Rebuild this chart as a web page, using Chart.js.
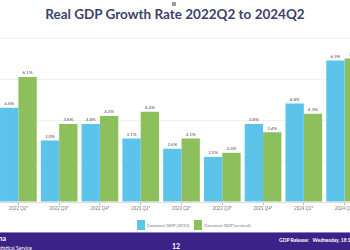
<!DOCTYPE html>
<html lang="en">
<head>
    <meta charset="UTF-8">
    <script src="https://cdn.jsdelivr.net/npm/chart.js"></script>
    <style>
        body, html {
            margin: 0;
            padding: 0;
            width: 350px;
            height: 250px;
            overflow: hidden;
            background: #fff;
            position: relative;
            font-family: Lato, "Open Sans", sans-serif;
        }
        #icon {
            position: absolute;
            left: 172px;
            top: 2px;
            width: 4px;
            height: 4px;
            background: #9a9a9a;
        }
        #title {
            position: absolute;
            top: 6px;
            left: 0;
            width: 350px;
            text-align: center;
            font-size: 13.5px;
            font-weight: bold;
            color: #3d3f6c;
        }
        #chart {
            position: absolute;
            left: -2px;
            top: 30px;
        }
        #legend {
            position: absolute;
            top: 220px;
            left: 137px;
            display: flex;
            align-items: center;
            font-size: 4.5px;
            color: #777;
            white-space: nowrap;
        }
        .box { width: 8px; height: 10px; margin-right: 2px; }
        #footer {
            position: absolute;
            left: 0;
            top: 232px;
            width: 350px;
            height: 18px;
            background: #3a2286;
            border-top: 1px solid #8f80c8;
            color: #fff;
            overflow: hidden;
        }
        .ft { position: absolute; white-space: nowrap; font-weight: bold; }
    </style>
</head>
<body>
    <div id="icon"></div>
    <div id="title">Real GDP Growth Rate 2022Q2 to 2024Q2</div>
    <canvas id="chart" width="367" height="188"></canvas>
    <div id="legend"></div>
    <div id="footer">
        <div class="ft" style="right:344px;top:1px;font-size:7px;">Ghana</div>
        <div class="ft" style="right:318px;top:12px;font-size:5px;font-weight:normal;">Statistical Service</div>
        <div class="ft" style="left:172px;top:9px;font-size:7px;">12</div>
        <div class="ft" style="left:279px;top:4px;font-size:5px;">GDP Release:&nbsp;&nbsp; Wednesday, 18 September 2024</div>
    </div>

    <script>
        const quarters = ['2022 Q2*', '2022 Q3*', '2022 Q4*', '2023 Q1*', '2023 Q2*', '2023 Q3*', '2023 Q4*', '2024 Q1*', '2024 Q2*'];
        const oldSeries = [4.6, 3.0, 3.8, 3.1, 2.6, 2.2, 3.8, 4.8, 6.9];
        const newSeries = [6.1, 3.8, 4.2, 4.4, 3.1, 2.4, 3.4, 4.3, 7.0];
        const seriesNames = ['Constant GDP (2013)', 'Constant GDP (revised)'];
        const seriesColors = ['#5cc3ea', '#8dc05c'];

        // html legend
        const legend = document.getElementById('legend');
        seriesNames.forEach((name, i) => {
            const box = document.createElement('div');
            box.className = 'box';
            box.style.background = seriesColors[i];
            const txt = document.createElement('span');
            txt.textContent = name;
            txt.style.marginRight = i === 0 ? '5px' : '0';
            legend.appendChild(box);
            legend.appendChild(txt);
        });

        // value labels above each bar
        const barLabels = {
            id: 'barLabels',
            afterDatasetsDraw(chart) {
                const ctx = chart.ctx;
                ctx.save();
                ctx.font = '4.5px Lato, sans-serif';
                ctx.fillStyle = '#555';
                ctx.textAlign = 'center';
                ctx.textBaseline = 'bottom';
                chart.data.datasets.forEach((ds, i) => {
                    chart.getDatasetMeta(i).data.forEach((bar, j) => {
                        ctx.fillText(ds.data[j].toFixed(1) + '%', bar.x, bar.y - 2);
                    });
                });
                ctx.restore();
            }
        };

        new Chart(document.getElementById('chart'), {
            type: 'bar',
            data: {
                labels: quarters,
                datasets: seriesNames.map((name, i) => ({
                    label: name,
                    data: i === 0 ? oldSeries : newSeries,
                    backgroundColor: seriesColors[i],
                    categoryPercentage: 0.9,
                    barPercentage: 1.0
                }))
            },
            options: {
                responsive: false,
                devicePixelRatio: 1,
                animation: false,
                layout: { padding: { top: 8, left: 0, right: 0, bottom: 0 } },
                scales: {
                    x: {
                        afterFit: (axis) => { axis.height = 16; },
                        grid: { display: true, drawOnChartArea: false, offset: false, tickLength: 3, color: '#bbb' },
                        border: { color: '#ddd' },
                        ticks: { font: { size: 4.5 }, color: '#777', padding: 1, maxRotation: 0, autoSkip: false }
                    },
                    y: {
                        display: true,
                        min: 0,
                        max: 8,
                        afterFit: (axis) => { axis.width = 0; },
                        ticks: { display: false, stepSize: 2 },
                        grid: { color: '#f0f0f0', drawTicks: false },
                        border: { display: false }
                    }
                },
                plugins: {
                    legend: { display: false },
                    tooltip: { enabled: false }
                }
            },
            plugins: [barLabels]
        });
    </script>
</body>
</html>
